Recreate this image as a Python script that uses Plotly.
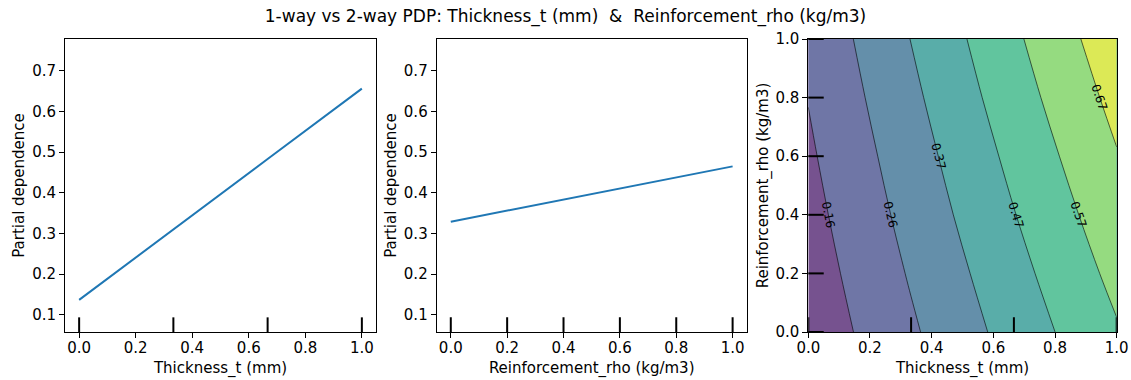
import math
import plotly.graph_objects as go

# ---------------- data ----------------
thick_grid = [0.0, 1/3, 2/3, 1.0]
thick_pd = [0.137, 0.311, 0.483, 0.656]

rho_grid = [0.0, 0.2, 0.4, 0.6, 0.8, 1.0]
rho_pd = [0.329, 0.356, 0.383, 0.411, 0.438, 0.465]

# 2-way PD: rows = rho_grid, columns = thick_grid
pd2 = [
    [0.092, 0.249, 0.406, 0.562],
    [0.110, 0.273, 0.435, 0.598],
    [0.128, 0.297, 0.465, 0.633],
    [0.146, 0.320, 0.494, 0.668],
    [0.164, 0.344, 0.524, 0.703],
    [0.182, 0.368, 0.553, 0.738],
]

thick_deciles = [0.0, 1/3, 2/3, 1.0]
rho_deciles = [0.0, 0.2, 0.4, 0.6, 0.8, 1.0]

contour_levels = [0.161, 0.2635, 0.366, 0.4685, 0.571, 0.6735]
# grid row (index into rho_grid) where each contour label sits
label_rows = [2, 2, 3, 2, 2, 4]

band_colors = ["rgb(118,82,143)", "rgb(111,118,166)", "rgb(100,143,170)",
               "rgb(89,173,169)", "rgb(97,197,158)", "rgb(149,219,128)",
               "rgb(220,233,86)"]

title = "1-way vs 2-way PDP: Thickness_t (mm)  &  Reinforcement_rho (kg/m3)"
xlab1 = "Thickness_t (mm)"
xlab2 = "Reinforcement_rho (kg/m3)"
ylab = "Partial dependence"

# ---------------- figure ----------------
W, H = 1131, 380
FONT = "DejaVu Sans"
fig = go.Figure()

fig.add_trace(go.Scatter(x=thick_grid, y=thick_pd, mode="lines",
                         line=dict(color="#1f77b4", width=2), xaxis="x", yaxis="y",
                         showlegend=False, hoverinfo="skip"))
fig.add_trace(go.Scatter(x=rho_grid, y=rho_pd, mode="lines",
                         line=dict(color="#1f77b4", width=2), xaxis="x2", yaxis="y2",
                         showlegend=False, hoverinfo="skip"))

n = len(band_colors)
cscale = [[i / (n - 1), c] for i, c in enumerate(band_colors)]
c_size = (contour_levels[-1] - contour_levels[0]) / (len(contour_levels) - 1)
fig.add_trace(go.Contour(x=thick_grid, y=rho_grid, z=pd2, xaxis="x3", yaxis="y3",
                         autocontour=False,
                         contours=dict(start=contour_levels[0], end=contour_levels[-1] + 1e-4,
                                       size=c_size, coloring="fill", showlabels=False),
                         colorscale=cscale, showscale=False,
                         line=dict(color="black", width=0.6, smoothing=1),
                         hoverinfo="skip"))

# domains (px)
X3 = (808.3, 1116.7)
Y_TOP, Y_BOT = 39, 332
ax3_w = X3[1] - X3[0]
ax3_h = Y_BOT - Y_TOP

annotations = []
for lev, r in zip(contour_levels, label_rows):
    row = pd2[r]
    v = rho_grid[r]
    for j in range(len(row) - 1):
        if row[j] <= lev <= row[j + 1]:
            t = (lev - row[j]) / (row[j + 1] - row[j])
            u = thick_grid[j] + t * (thick_grid[j + 1] - thick_grid[j])
            dzdu = (row[j + 1] - row[j]) / (thick_grid[j + 1] - thick_grid[j])
            # dz/dv at this column segment
            rr = min(r + 1, len(rho_grid) - 1)
            rl = max(r - 1, 0)
            zu = pd2[rr][j] + t * (pd2[rr][j + 1] - pd2[rr][j])
            zl = pd2[rl][j] + t * (pd2[rl][j + 1] - pd2[rl][j])
            dzdv = (zu - zl) / (rho_grid[rr] - rho_grid[rl])
            a = dzdu / ax3_w
            b = dzdv / ax3_h
            ang = math.degrees(math.atan2(a, b))
            annotations.append(dict(x=u, y=v, xref="x3", yref="y3", text=f"{lev:.2f}",
                                    showarrow=False, textangle=ang,
                                    font=dict(family=FONT, size=12, color="black")))
            break

shapes = []
for d in thick_deciles:
    shapes.append(dict(type="line", xref="x", yref="y domain", x0=d, x1=d, y0=0, y1=0.05,
                       line=dict(color="black", width=2)))
    shapes.append(dict(type="line", xref="x3", yref="y3 domain", x0=d, x1=d, y0=0, y1=0.05,
                       line=dict(color="black", width=2)))
for d in rho_deciles:
    shapes.append(dict(type="line", xref="x2", yref="y2 domain", x0=d, x1=d, y0=0, y1=0.05,
                       line=dict(color="black", width=2)))
    shapes.append(dict(type="line", xref="x3 domain", yref="y3", x0=0, x1=0.05, y0=d, y1=d,
                       line=dict(color="black", width=2)))

def px_dom(a, b, total):
    return [a / total, b / total]

ydom = [(H - Y_BOT) / H, (H - Y_TOP) / H]
tickfont = dict(family=FONT, size=15, color="black")
titlefont = dict(family=FONT, size=15, color="black")
common = dict(showgrid=False, zeroline=False, showline=True, linecolor="black", linewidth=1,
              mirror=True, ticks="outside", ticklen=5, tickwidth=1, tickcolor="black",
              tickfont=tickfont, automargin=False)

xticks = [0.0, 0.2, 0.4, 0.6, 0.8, 1.0]
yticks = [0.1, 0.2, 0.3, 0.4, 0.5, 0.6, 0.7]
xt = dict(standoff=6, font=titlefont)
yt = dict(standoff=3, font=titlefont)

fig.update_layout(
    width=W, height=H, autosize=False,
    margin=dict(l=0, r=0, t=0, b=0),
    paper_bgcolor="white", plot_bgcolor="white",
    font=dict(family=FONT, color="black"),
    title=dict(text=title, x=0.5, xanchor="center", xref="paper", y=1 - 16 / H, yref="container",
               yanchor="middle", font=dict(family=FONT, size=17, color="black")),
    xaxis=dict(domain=px_dom(65, 376, W), range=[-0.05, 1.05], tickvals=xticks, tickformat=".1f",
               anchor="y", ticklabelstandoff=-3, title=dict(text=xlab1, **xt), **common),
    yaxis=dict(domain=ydom, range=[0.058, 0.778], tickvals=yticks, tickformat=".1f",
               anchor="x", title=dict(text=ylab, **yt), **common),
    xaxis2=dict(domain=px_dom(436.7, 746.7, W), range=[-0.05, 1.05], tickvals=xticks,
                tickformat=".1f", anchor="y2", ticklabelstandoff=-3,
                title=dict(text=xlab2, **xt), **common),
    yaxis2=dict(domain=ydom, range=[0.058, 0.778], tickvals=yticks, tickformat=".1f",
                anchor="x2", title=dict(text=ylab, **yt), **common),
    xaxis3=dict(domain=px_dom(*X3, W), range=[0, 1], tickvals=xticks, tickformat=".1f",
                anchor="y3", ticklabelstandoff=-3, title=dict(text=xlab1, **xt), **common),
    yaxis3=dict(domain=ydom, range=[0, 1], tickvals=xticks, tickformat=".1f",
                anchor="x3", title=dict(text=xlab2, **yt), **common),
    shapes=shapes,
    annotations=annotations,
)

fig.write_html("out.html")
